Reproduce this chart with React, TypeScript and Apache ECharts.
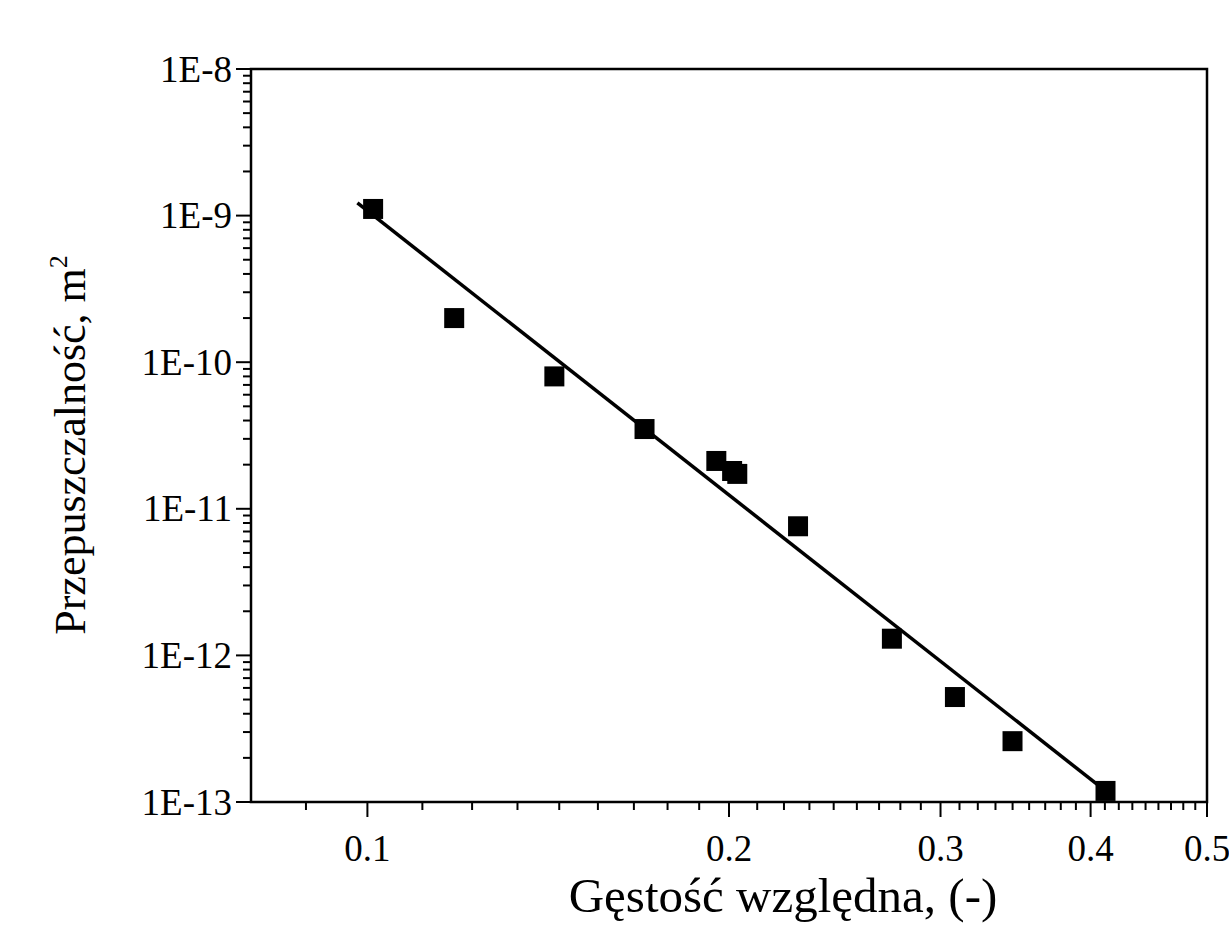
import React, { useEffect, useRef } from "react";
import * as echarts from "echarts";

// Measured data (relative density vs permeability)
const xData = [0.1011, 0.1181, 0.1431, 0.1701, 0.1952, 0.2012, 0.2032, 0.2283, 0.2733, 0.3084, 0.3444, 0.4116];
const yData = [1.11e-9, 2.0e-10, 8.0e-11, 3.5e-11, 2.12e-11, 1.81e-11, 1.73e-11, 7.6e-12, 1.3e-12, 5.2e-13, 2.6e-13, 1.19e-13];

// Fitted power-law line end points
const fitX = [0.0981, 0.4116];
const fitY = [1.22e-9, 1.19e-13];

// Axes
const xMin = 0.08;
const xMax = 0.5;
const yMin = 1e-13;
const yMax = 1e-8;
const xMajorTicks = [0.1, 0.2, 0.3, 0.4, 0.5];
const xTickLabels = ["0.1", "0.2", "0.3", "0.4", "0.5"];
const yMajorTicks = [1e-8, 1e-9, 1e-10, 1e-11, 1e-12, 1e-13];
const yTickLabels = ["1E-8", "1E-9", "1E-10", "1E-11", "1E-12", "1E-13"];
const xMinorPerMajor = 8;
const yDecades = [-13, -12, -11, -10, -9];
const yMinorMultipliers = [2, 3, 4, 5, 6, 7, 8, 9];

const xTitle = "Gęstość względna, (-)";
const yTitle = "Przepuszczalność, m";
const yTitleSup = "2";

const FONT = '"Liberation Serif", "Times New Roman", serif';

function buildXMinor(): number[] {
  const out: number[] = [];
  const step = 0.1 / (xMinorPerMajor + 1);
  for (let m = 0; m < 5; m++) {
    for (let k = 1; k <= xMinorPerMajor; k++) {
      const v = m * 0.1 + k * step;
      if (v >= xMin && v <= xMax) out.push(v);
    }
  }
  return out;
}
function buildYMinor(): number[] {
  const out: number[] = [];
  yDecades.forEach((d) => yMinorMultipliers.forEach((k) => out.push(k * Math.pow(10, d))));
  return out;
}

export default function App() {
  const ref = useRef<HTMLDivElement>(null);
  useEffect(() => {
    if (!ref.current) return;
    const chart = echarts.init(ref.current, undefined, { renderer: "svg" });
    const xMinor = buildXMinor();
    const yMinor = buildYMinor();

    const xTickSeries = (vals: number[], len: number, labels?: string[]) => ({
      type: "custom",
      coordinateSystem: "cartesian2d",
      silent: true,
      clip: false,
      z: 5,
      data: vals.map((v) => [v, yMin]),
      renderItem: (params: any, api: any) => {
        const p = api.coord([api.value(0), api.value(1)]);
        const children: any[] = [
          {
            type: "line",
            shape: { x1: p[0], y1: p[1], x2: p[0], y2: p[1] + len },
            style: { stroke: "#000", lineWidth: 2 },
          },
        ];
        if (labels) {
          children.push({
            type: "text",
            x: p[0],
            y: p[1] + 46,
            style: {
              text: labels[params.dataIndex],
              fill: "#000",
              fontSize: 37,
              fontFamily: FONT,
              align: "center",
              verticalAlign: "middle",
            },
          });
        }
        return { type: "group", children };
      },
    });

    const yTickSeries = (vals: number[], len: number, labels?: string[]) => ({
      type: "custom",
      coordinateSystem: "cartesian2d",
      silent: true,
      clip: false,
      z: 5,
      data: vals.map((v) => [xMin, v]),
      renderItem: (params: any, api: any) => {
        const p = api.coord([api.value(0), api.value(1)]);
        const children: any[] = [
          {
            type: "line",
            shape: { x1: p[0] - len, y1: p[1], x2: p[0], y2: p[1] },
            style: { stroke: "#000", lineWidth: 2 },
          },
        ];
        if (labels) {
          children.push({
            type: "text",
            x: p[0] - 19,
            y: p[1],
            style: {
              text: labels[params.dataIndex],
              fill: "#000",
              fontSize: 37,
              fontFamily: FONT,
              align: "right",
              verticalAlign: "middle",
            },
          });
        }
        return { type: "group", children };
      },
    });

    chart.setOption({
      animation: false,
      backgroundColor: "#fff",
      grid: {
        left: 251,
        right: 22,
        top: 69,
        bottom: 147,
        show: true,
        borderColor: "#000",
        borderWidth: 2.5,
        backgroundColor: "transparent",
      },
      xAxis: {
        type: "log",
        logBase: 10,
        min: xMin,
        max: xMax,
        axisLine: { show: false },
        axisTick: { show: false },
        axisLabel: { show: false },
        splitLine: { show: false },
      },
      yAxis: {
        type: "log",
        logBase: 10,
        min: yMin,
        max: yMax,
        axisLine: { show: false },
        axisTick: { show: false },
        axisLabel: { show: false },
        splitLine: { show: false },
      },
      graphic: [
        {
          type: "text",
          x: 783,
          y: 895,
          style: {
            text: xTitle,
            fill: "#000",
            fontSize: 49,
            fontFamily: FONT,
            align: "center",
            verticalAlign: "middle",
          },
        },
        {
          type: "text",
          x: 70,
          y: 445,
          rotation: Math.PI / 2,
          style: {
            text: "{a|" + yTitle + "}{b|" + yTitleSup + "}",
            fill: "#000",
            align: "center",
            verticalAlign: "middle",
            rich: {
              a: { fontSize: 44, fontFamily: FONT, fill: "#000", lineHeight: 50 },
              b: { fontSize: 26, fontFamily: FONT, fill: "#000", verticalAlign: "top", lineHeight: 50 },
            },
          },
        },
      ],
      series: [
        {
          type: "line",
          data: fitX.map((x, i) => [x, fitY[i]]),
          showSymbol: false,
          symbol: "none",
          lineStyle: { color: "#000", width: 3.5 },
          silent: true,
          z: 2,
        },
        {
          type: "scatter",
          data: xData.map((x, i) => [x, yData[i]]),
          symbol: "rect",
          symbolSize: 20,
          itemStyle: { color: "#000", opacity: 1 },
          z: 3,
        },
        xTickSeries(xMajorTicks, 15, xTickLabels),
        xTickSeries(xMinor, 8),
        yTickSeries(yMajorTicks, 15, yTickLabels),
        yTickSeries(yMinor, 8),
      ],
    });
    return () => chart.dispose();
  }, []);
  return (
    <div
      ref={ref}
      style={{ position: "absolute", left: 0, top: 0, width: 1229, height: 949, background: "#fff" }}
    />
  );
}
